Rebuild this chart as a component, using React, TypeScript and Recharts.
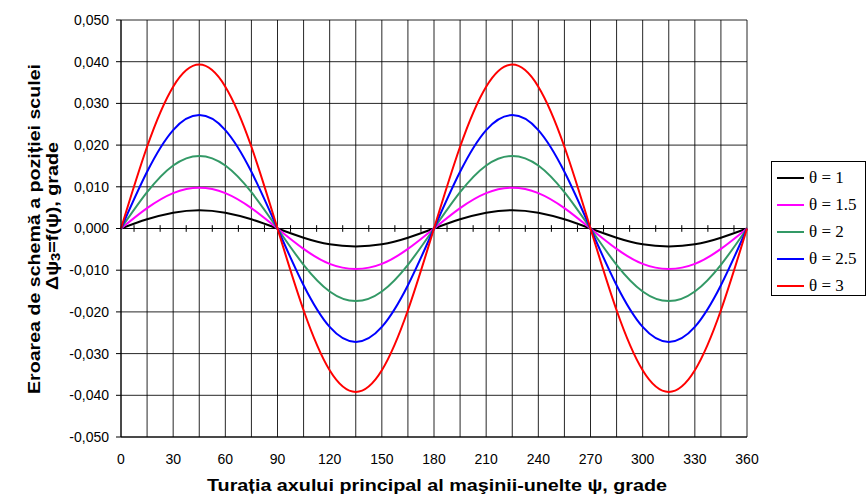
import React from "react";
import {
  CartesianGrid,
  Label,
  Line,
  LineChart,
  ReferenceLine,
  XAxis,
  YAxis,
} from "recharts";

// psi, grade (every 15 degrees)
const psi = [0, 15, 30, 45, 60, 75, 90, 105, 120, 135, 150, 165, 180, 195, 210, 225, 240, 255, 270, 285, 300, 315, 330, 345, 360];

const theta1 = [0, 0.0022, 0.0038, 0.0044, 0.0038, 0.0022, 0, -0.0022, -0.0038, -0.0043, -0.0038, -0.0022, 0, 0.0022, 0.0038, 0.0044, 0.0038, 0.0022, 0, -0.0022, -0.0038, -0.0043, -0.0038, -0.0022, 0];
const theta15 = [0, 0.0049, 0.0085, 0.0098, 0.0085, 0.0049, 0, -0.0049, -0.0085, -0.0097, -0.0085, -0.0049, 0, 0.0049, 0.0085, 0.0098, 0.0085, 0.0049, 0, -0.0049, -0.0085, -0.0097, -0.0085, -0.0049, 0];
const theta2 = [0, 0.0087, 0.0151, 0.0174, 0.0151, 0.0087, 0, -0.0087, -0.0151, -0.0174, -0.0151, -0.0087, 0, 0.0087, 0.0151, 0.0174, 0.0151, 0.0087, 0, -0.0087, -0.0151, -0.0174, -0.0151, -0.0087, 0];
const theta25 = [0, 0.0136, 0.0236, 0.0272, 0.0236, 0.0136, 0, -0.0136, -0.0236, -0.0272, -0.0236, -0.0136, 0, 0.0136, 0.0236, 0.0272, 0.0236, 0.0136, 0, -0.0136, -0.0236, -0.0272, -0.0236, -0.0136, 0];
const theta3 = [0, 0.0196, 0.034, 0.0393, 0.034, 0.0196, 0, -0.0196, -0.034, -0.0392, -0.034, -0.0196, 0, 0.0196, 0.034, 0.0393, 0.034, 0.0196, 0, -0.0196, -0.034, -0.0392, -0.034, -0.0196, 0];

const xTicks = [0, 15, 30, 45, 60, 75, 90, 105, 120, 135, 150, 165, 180, 195, 210, 225, 240, 255, 270, 285, 300, 315, 330, 345, 360];
const yTicks = [-0.05, -0.04, -0.03, -0.02, -0.01, 0, 0.01, 0.02, 0.03, 0.04, 0.05];

const series = [
  { key: "t1", name: "θ = 1", color: "#000000", values: theta1 },
  { key: "t15", name: "θ = 1.5", color: "#ff00ff", values: theta15 },
  { key: "t2", name: "θ = 2", color: "#339966", values: theta2 },
  { key: "t25", name: "θ = 2.5", color: "#0000ff", values: theta25 },
  { key: "t3", name: "θ = 3", color: "#ff0000", values: theta3 },
];

const data = psi.map((p, i) => {
  const row: Record<string, number> = { psi: p };
  series.forEach((s) => (row[s.key] = s.values[i]));
  return row;
});

// small marks on the zero axis, between the grid lines
const minorTicks = xTicks.slice(0, -1).map((t) => t + 7.5);

const font = "Arial, 'Liberation Sans', sans-serif";

function LegendBox() {
  return (
    <div
      style={{
        position: "absolute",
        left: 771,
        top: 161,
        width: 95,
        height: 135,
        border: "1px solid #000",
        background: "#fff",
        fontFamily: "'Liberation Serif', 'Times New Roman', serif",
        fontSize: 17,
        paddingTop: 2,
        boxSizing: "border-box",
      }}
    >
      {series.map((s) => (
        <div key={s.key} style={{ display: "flex", alignItems: "center", height: 27 }}>
          <div style={{ width: 27, height: 2, background: s.color, marginLeft: 5, marginRight: 5 }} />
          <span style={{ whiteSpace: "nowrap" }}>{s.name}</span>
        </div>
      ))}
    </div>
  );
}

export default function App() {
  return (
    <div style={{ position: "absolute", left: 0, top: 0, width: 866, height: 498, background: "#fff" }}>
      <LineChart width={866} height={498} data={data} margin={{ top: 20, right: 119, bottom: 0, left: 0 }}>
        <CartesianGrid stroke="#000" strokeOpacity={0.85} />
        <XAxis
          dataKey="psi"
          type="number"
          domain={[0, 360]}
          ticks={xTicks}
          height={61}
          axisLine={{ stroke: "#000" }}
          tickLine={false}
          tickSize={0}
          tickMargin={17}
          tick={{ fill: "#000", fontSize: 14, fontFamily: font }}
          tickFormatter={(v: number) => (v % 30 === 0 ? String(v) : "")}
          interval={0}
        >
          <Label
            content={() => (
              <text
                x={437}
                y={491}
                textAnchor="middle"
                fontFamily={font}
                fontWeight="bold"
                fontSize={16}
                fill="#000"
                textLength={460}
                lengthAdjust="spacingAndGlyphs"
              >
                Turația axului principal al maşinii-unelte ψ, grade
              </text>
            )}
          />
        </XAxis>
        <YAxis
          type="number"
          domain={[-0.05, 0.05]}
          ticks={yTicks}
          width={121}
          axisLine={{ stroke: "#000" }}
          tickLine={{ stroke: "#000" }}
          tickSize={5}
          tickMargin={7}
          tick={{ fill: "#000", fontSize: 14, fontFamily: font }}
          tickFormatter={(v: number) => v.toFixed(3).replace(".", ",")}
          interval={0}
        >
          <Label
            content={() => (
              <g fontFamily={font} fontWeight="bold" fontSize={16} fill="#000">
                <text
                  transform="translate(34, 229) rotate(-90)"
                  textAnchor="middle"
                  dominantBaseline="central"
                  textLength={330}
                  lengthAdjust="spacingAndGlyphs"
                >
                  Eroarea de schemă a poziției sculei
                </text>
                <text
                  transform="translate(52, 216) rotate(-90)"
                  textAnchor="middle"
                  dominantBaseline="central"
                  textLength={148}
                  lengthAdjust="spacingAndGlyphs"
                >
                  Δψ<tspan fontSize={12} dy={4}>3</tspan>
                  <tspan dy={-4}>=f(ψ), grade</tspan>
                </text>
              </g>
            )}
          />
        </YAxis>
        <ReferenceLine y={0} stroke="#000" />
        {minorTicks.map((t) => (
          <ReferenceLine
            key={t}
            segment={[
              { x: t, y: -0.0008 },
              { x: t, y: 0.0008 },
            ]}
            stroke="#000"
          />
        ))}
        {series.map((s) => (
          <Line
            key={s.key}
            dataKey={s.key}
            name={s.name}
            type="natural"
            stroke={s.color}
            strokeWidth={2}
            dot={false}
            isAnimationActive={false}
          />
        ))}
      </LineChart>
      <LegendBox />
    </div>
  );
}
